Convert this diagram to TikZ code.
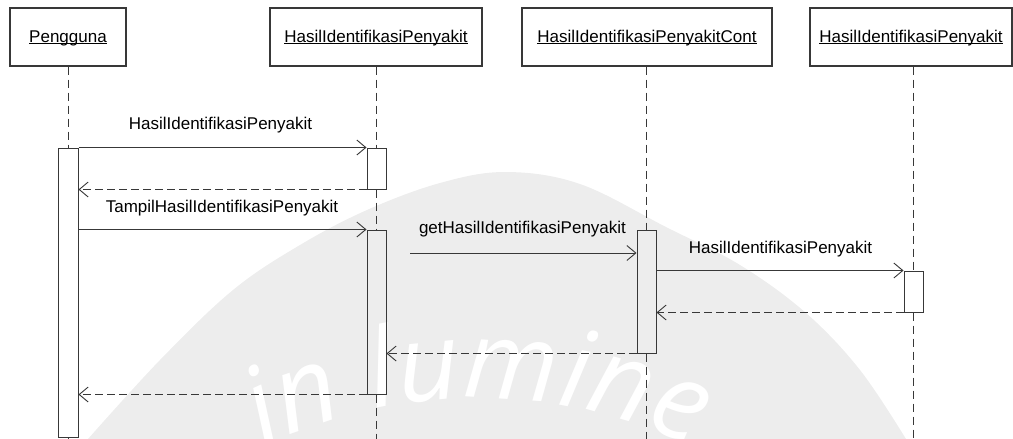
\documentclass[tikz,border=0pt]{standalone}
\usepackage{fontspec}
\setmainfont{Liberation Sans}
\newfontfamily\wmfont{Open Sans}
\usetikzlibrary{arrows.meta,decorations.text}

% object name with a low underline
\newcommand\objname[1]{\setbox0\hbox{#1}\rlap{\rule[-1.8pt]{\wd0}{1.1pt}}\box0}

\begin{document}
\begin{tikzpicture}[x=1pt,y=-1pt,
  ink/.style={draw=black!78, line width=0.9pt},
  objbox/.style={ink, line width=1.2pt, minimum height=58pt, inner sep=0pt,
    text height=13pt, text depth=2pt, font=\fontsize{17}{20}\selectfont, text=black},
  actbox/.style={ink, line width=1pt, minimum width=19pt, inner sep=0pt},
  life/.style={ink, line width=1pt, dash pattern=on 8pt off 5pt},
  call/.style={ink, -{Straight Barb[length=9pt,width=15pt,line width=0.9pt]}},
  reply/.style={call, dash pattern=on 8pt off 4pt},
  lbl/.style={anchor=base, inner sep=0pt, font=\fontsize{17}{20}\selectfont, text=black}
]
\useasboundingbox (0,0) rectangle (1013,439);

% faint dome in the background with its lettering
\fill[black!7] plot[smooth, tension=0.6] coordinates {
  (88,439) (160,360) (233,290) (300,245) (367,210) (440,183) (506,172)
  (580,184) (666,227) (740,265) (806,313) (860,370) (906,439)} -- cycle;
\path[decorate, decoration={text along path, text align=center,
  text color=white, text={|\wmfont\itshape\fontsize{108}{108}\selectfont|in lumine}}]
  (478,889) ++(236:491) arc[start angle=236, end angle=304, radius=491];

% objects
\node[objbox, minimum width=116pt] (p)  at (68,37)  {\objname{Pengguna}};
\node[objbox, minimum width=212pt] (h1) at (376,37) {\objname{HasilIdentifikasiPenyakit}};
\node[objbox, minimum width=250pt] (hc) at (647,37) {\objname{HasilIdentifikasiPenyakitCont}};
\node[objbox, minimum width=202pt] (h2) at (911,37) {\objname{HasilIdentifikasiPenyakit}};

% activation bars
\node[actbox, minimum width=20pt, minimum height=289pt] (pa) at (68,292.5) {};
\node[actbox, minimum height=41pt]  (a1) at (376.5,168.5) {};
\node[actbox, minimum height=164pt] (a2) at (376.5,312) {};
\node[actbox, minimum height=123pt] (a3) at (646.5,291.5) {};
\node[actbox, minimum height=41pt]  (a4) at (913.5,291.5) {};

% bottom ends of the lifelines
\coordinate (pe) at (68,439);
\coordinate (h1e) at (376.5,439);
\coordinate (hce) at (646.5,439);
\coordinate (h2e) at (913.5,439);

% lifelines
\draw[life] (p.south) -- (pa.north);
\draw[life] (pa.south) -- (pe);
\draw[life] (h1.south -| a1.north) -- (a1.north);
\draw[life] (a1.south) -- (a2.north);
\draw[life] (a2.south) -- (h1e);
\draw[life] (hc.south -| a3.north) -- (a3.north);
\draw[life] (a3.south) -- (hce);
\draw[life] (h2.south -| a4.north) -- (a4.north);
\draw[life] (a4.south) -- (h2e);

% messages
\node[lbl] (l1) at (220.5,129.5) {HasilIdentifikasiPenyakit};
\draw[call] (pa.east |- a1.north) -- (a1.north west);
\draw[reply] (a1.south west) -- (pa.east |- a1.south);

\node[lbl] (l2) at (222,212) {TampilHasilIdentifikasiPenyakit};
\draw[call] (pa.east |- a2.north) -- (a2.north west);

\node[lbl] (l3) at (522.5,233) {getHasilIdentifikasiPenyakit};
\coordinate (s3) at (410,253);
\draw[call] (s3) -- (a3.west |- s3);

\node[lbl] (l4) at (780.5,253) {HasilIdentifikasiPenyakit};
\draw[call] (a3.east |- a4.north) -- (a4.north west);
\draw[reply] (a4.south west) -- (a3.east |- a4.south);

\draw[reply] (a3.south west) -- (a2.east |- a3.south);
\draw[reply] (a2.south west) -- (pa.east |- a2.south);
\end{tikzpicture}
\end{document}
